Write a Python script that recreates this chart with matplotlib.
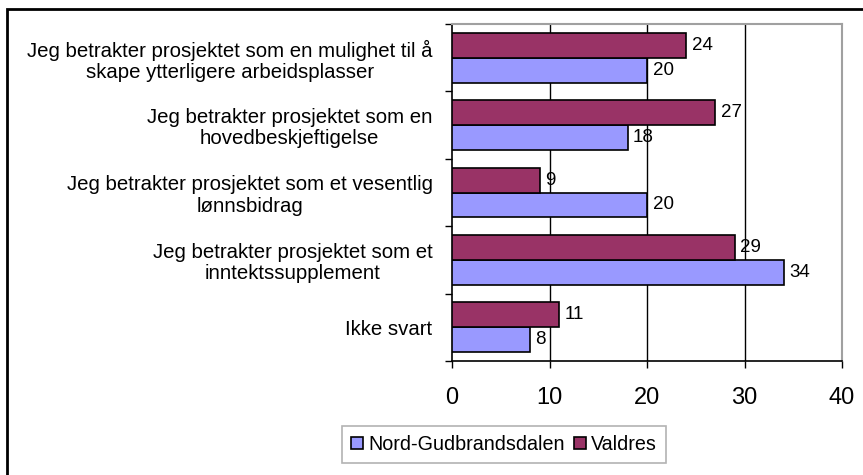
import matplotlib; matplotlib.use("Agg")
import matplotlib.pyplot as plt
from matplotlib.patches import Rectangle
import numpy as np

plt.rcParams['font.family'] = ['Liberation Sans', 'DejaVu Sans']

categories = [
    "Jeg betrakter prosjektet som en mulighet til å\nskape ytterligere arbeidsplasser",
    "Jeg betrakter prosjektet som en\nhovedbeskjeftigelse",
    "Jeg betrakter prosjektet som et vesentlig\nlønnsbidrag",
    "Jeg betrakter prosjektet som et\ninntektssupplement",
    "Ikke svart",
]
nord_gudbrandsdalen = [20, 18, 20, 34, 8]
valdres = [24, 27, 9, 29, 11]
series_names = ["Nord-Gudbrandsdalen", "Valdres"]
xticks = [0, 10, 20, 30, 40]

BLUE = "#9999FF"; MAROON = "#993366"; GRAY = "#a0a0a0"

fig = plt.figure(figsize=(8.63, 4.75), dpi=100)
ax = fig.add_axes([452/863, 1-361/475, (842-452)/863, (361-24)/475])

y = np.arange(len(categories))
h = 0.37
b1 = ax.barh(y + h/2, nord_gudbrandsdalen, height=h, color=BLUE, edgecolor="black", lw=1.2, zorder=3, label=series_names[0])
b2 = ax.barh(y - h/2, valdres, height=h, color=MAROON, edgecolor="black", lw=1.2, zorder=3, label=series_names[1])
for bars in (b1, b2):
    ax.bar_label(bars, padding=4, fontsize=13.5, zorder=4)

ax.set_xlim(0, 40)
ax.set_ylim(len(categories) - 0.5, -0.5)
ax.set_xticks(xticks)
ax.tick_params(axis="x", labelsize=17, length=5, width=1, direction="out", pad=14)
ax.set_yticks(y)
ax.set_yticklabels(categories, fontsize=14.7, multialignment="center", linespacing=1.15)
ax.tick_params(axis="y", which="major", length=0, pad=14)
ax.set_yticks(np.arange(len(categories) + 1) - 0.5, minor=True)
ax.tick_params(axis="y", which="minor", length=5, width=1, direction="out")

for xv in xticks[1:-1]:
    ax.axvline(xv, color="black", lw=1, zorder=1)
for s in ("top", "right"):
    ax.spines[s].set_color(GRAY)
    ax.spines[s].set_linewidth(1.5)
for s in ("left", "bottom"):
    ax.spines[s].set_color("black")
    ax.spines[s].set_linewidth(1.2)

leg = fig.legend(handles=[b1, b2], loc="center", bbox_to_anchor=(504/863, 1-444.5/475),
                 ncol=2, fontsize=14.2, frameon=True, fancybox=False, handlelength=0.6,
                 handleheight=0.6, handletextpad=0.25, columnspacing=0.5, borderpad=0.45)
leg.get_frame().set_edgecolor(GRAY)
leg.get_frame().set_linewidth(1.2)

# outer chart border (cut off on the right and bottom)
fig.add_artist(Rectangle((7/863, -0.1), 1.2, 1-9/475+0.1, transform=fig.transFigure,
                         fill=False, edgecolor="black", lw=2))

fig.savefig("out.png", dpi=100)
